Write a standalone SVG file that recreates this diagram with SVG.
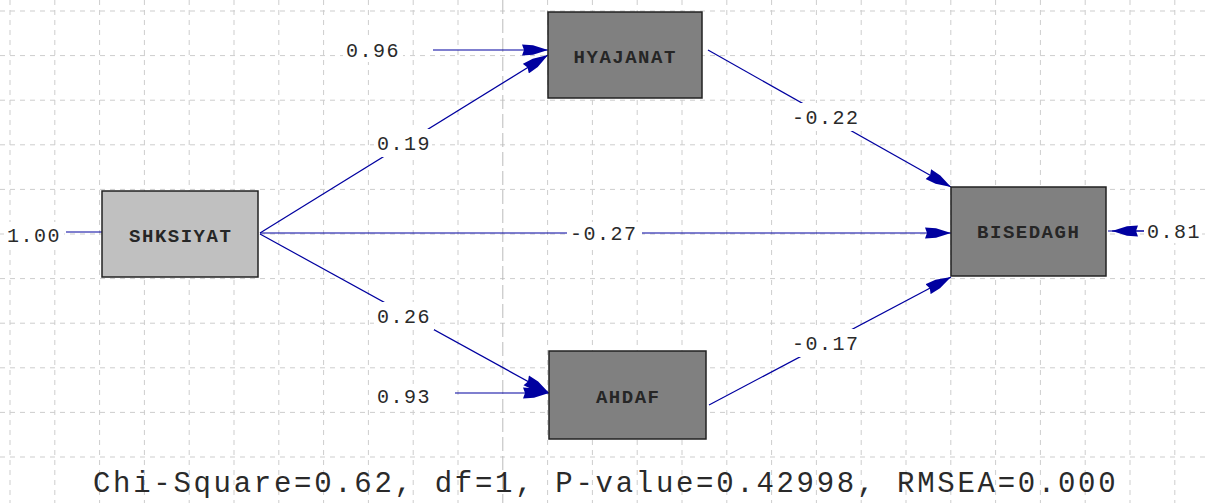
<svg xmlns="http://www.w3.org/2000/svg" width="1205" height="503" viewBox="0 0 1205 503">
<defs>
<style>
.grid line{stroke:#cdcdcd;stroke-width:1;stroke-dasharray:5,5}
.box{stroke:#222;stroke-width:1.5}
.lbl{font-family:"Liberation Mono",monospace;font-weight:bold;font-size:19px;letter-spacing:1.5px;fill:#262626;text-anchor:middle}
.num{font-family:"Liberation Mono",monospace;font-size:20px;letter-spacing:1.5px;fill:#2a2a2a}
.bg{fill:#fff}
.conn path{stroke:#0000a0;stroke-width:1.2;fill:none}
</style>
<marker id="ah" markerUnits="userSpaceOnUse" markerWidth="26" markerHeight="12" viewBox="0 0 26 12" refX="26" refY="6" orient="auto">
<path d="M26,6 L11,1.2 L0,0.4 L2,6 L0,11.6 L11,10.8 Z" fill="#0000a0"/>
</marker>
</defs>
<rect width="1205" height="503" fill="#fff"/>
<g class="grid">
<line x1="10" y1="0" x2="10" y2="503"/><line x1="54.8" y1="0" x2="54.8" y2="503"/><line x1="99.6" y1="0" x2="99.6" y2="503"/><line x1="144.4" y1="0" x2="144.4" y2="503"/><line x1="189.2" y1="0" x2="189.2" y2="503"/><line x1="234" y1="0" x2="234" y2="503"/><line x1="278.8" y1="0" x2="278.8" y2="503"/><line x1="323.6" y1="0" x2="323.6" y2="503"/><line x1="368.4" y1="0" x2="368.4" y2="503"/><line x1="413.2" y1="0" x2="413.2" y2="503"/><line x1="458" y1="0" x2="458" y2="503"/><line x1="547.6" y1="0" x2="547.6" y2="503"/><line x1="592.4" y1="0" x2="592.4" y2="503"/><line x1="637.2" y1="0" x2="637.2" y2="503"/><line x1="682" y1="0" x2="682" y2="503"/><line x1="726.8" y1="0" x2="726.8" y2="503"/><line x1="771.6" y1="0" x2="771.6" y2="503"/><line x1="816.4" y1="0" x2="816.4" y2="503"/><line x1="861.2" y1="0" x2="861.2" y2="503"/><line x1="906" y1="0" x2="906" y2="503"/><line x1="950.8" y1="0" x2="950.8" y2="503"/><line x1="995.6" y1="0" x2="995.6" y2="503"/><line x1="1040.4" y1="0" x2="1040.4" y2="503"/><line x1="1085.2" y1="0" x2="1085.2" y2="503"/><line x1="1130" y1="0" x2="1130" y2="503"/><line x1="1174.8" y1="0" x2="1174.8" y2="503"/>
<line x1="0" y1="11" x2="1205" y2="11"/><line x1="0" y1="55.6" x2="1205" y2="55.6"/><line x1="0" y1="100.2" x2="1205" y2="100.2"/><line x1="0" y1="144.8" x2="1205" y2="144.8"/><line x1="0" y1="189.4" x2="1205" y2="189.4"/><line x1="0" y1="234" x2="1205" y2="234"/><line x1="0" y1="278.6" x2="1205" y2="278.6"/><line x1="0" y1="323.2" x2="1205" y2="323.2"/><line x1="0" y1="367.8" x2="1205" y2="367.8"/><line x1="0" y1="412.4" x2="1205" y2="412.4"/><line x1="0" y1="457" x2="1205" y2="457"/>
<line x1="502.8" y1="0" x2="502.8" y2="503" style="stroke:#bbb;stroke-dasharray:14,5"/>
</g>
<g class="conn">
<path d="M66,232 L102,232"/>
<path d="M433,50 L548,50" marker-end="url(#ah)"/>
<path d="M260,233 L548,55" marker-end="url(#ah)"/>
<path d="M260,234 L549,393" marker-end="url(#ah)"/>
<path d="M260,233 L951,233" marker-end="url(#ah)"/>
<path d="M708,50 L951,187" marker-end="url(#ah)"/>
<path d="M709,405 L951,277" marker-end="url(#ah)"/>
<path d="M455,393 L549,393" marker-end="url(#ah)"/>
<path d="M1147,231 L1108,231"/>
<path d="M1147,231 L1112,231" marker-end="url(#ah)"/>
</g>
<g id="labels">
<rect class="bg" x="4" y="222" width="60" height="24"/><text class="num" x="7" y="242">1.00</text>
<rect class="bg" x="343" y="38" width="60" height="24"/><text class="num" x="346" y="57">0.96</text>
<rect class="bg" x="374" y="384" width="60" height="24"/><text class="num" x="377" y="403">0.93</text>
<rect class="bg" x="1144" y="219" width="58" height="24"/><text class="num" x="1147" y="238">0.81</text>
<rect class="bg" x="567" y="222" width="75" height="23"/><text class="num" x="570" y="240">-0.27</text>
<rect class="bg" x="374" y="129" width="58" height="28"/><text class="num" x="377" y="150">0.19</text>
<rect class="bg" x="374" y="302" width="60" height="28"/><text class="num" x="377" y="323">0.26</text>
<rect class="bg" x="789" y="103" width="73" height="28"/><text class="num" x="792" y="124">-0.22</text>
<rect class="bg" x="789" y="329" width="73" height="28"/><text class="num" x="792" y="350">-0.17</text>
</g>
<g id="SHKSIYAT"><rect class="box" x="102" y="191" width="156" height="86" fill="#c0c0c0"/><text class="lbl" x="180.7" y="241.5">SHKSIYAT</text></g>
<g id="HYAJANAT"><rect class="box" x="548" y="12" width="154" height="86" fill="#808080"/><text class="lbl" x="625.2" y="62.5">HYAJANAT</text></g>
<g id="BISEDAGH"><rect class="box" x="951" y="187" width="155" height="89" fill="#808080"/><text class="lbl" x="1028.7" y="238">BISEDAGH</text></g>
<g id="AHDAF"><rect class="box" x="549" y="351" width="157" height="88" fill="#808080"/><text class="lbl" x="628.2" y="402.5">AHDAF</text></g>
<text x="93" y="492" style="font-family:'Liberation Mono',monospace;font-size:29px;letter-spacing:2.7px;fill:#2a2a2a">Chi-Square=0.62, df=1, P-value=0.42998, RMSEA=0.000</text>
</svg>
